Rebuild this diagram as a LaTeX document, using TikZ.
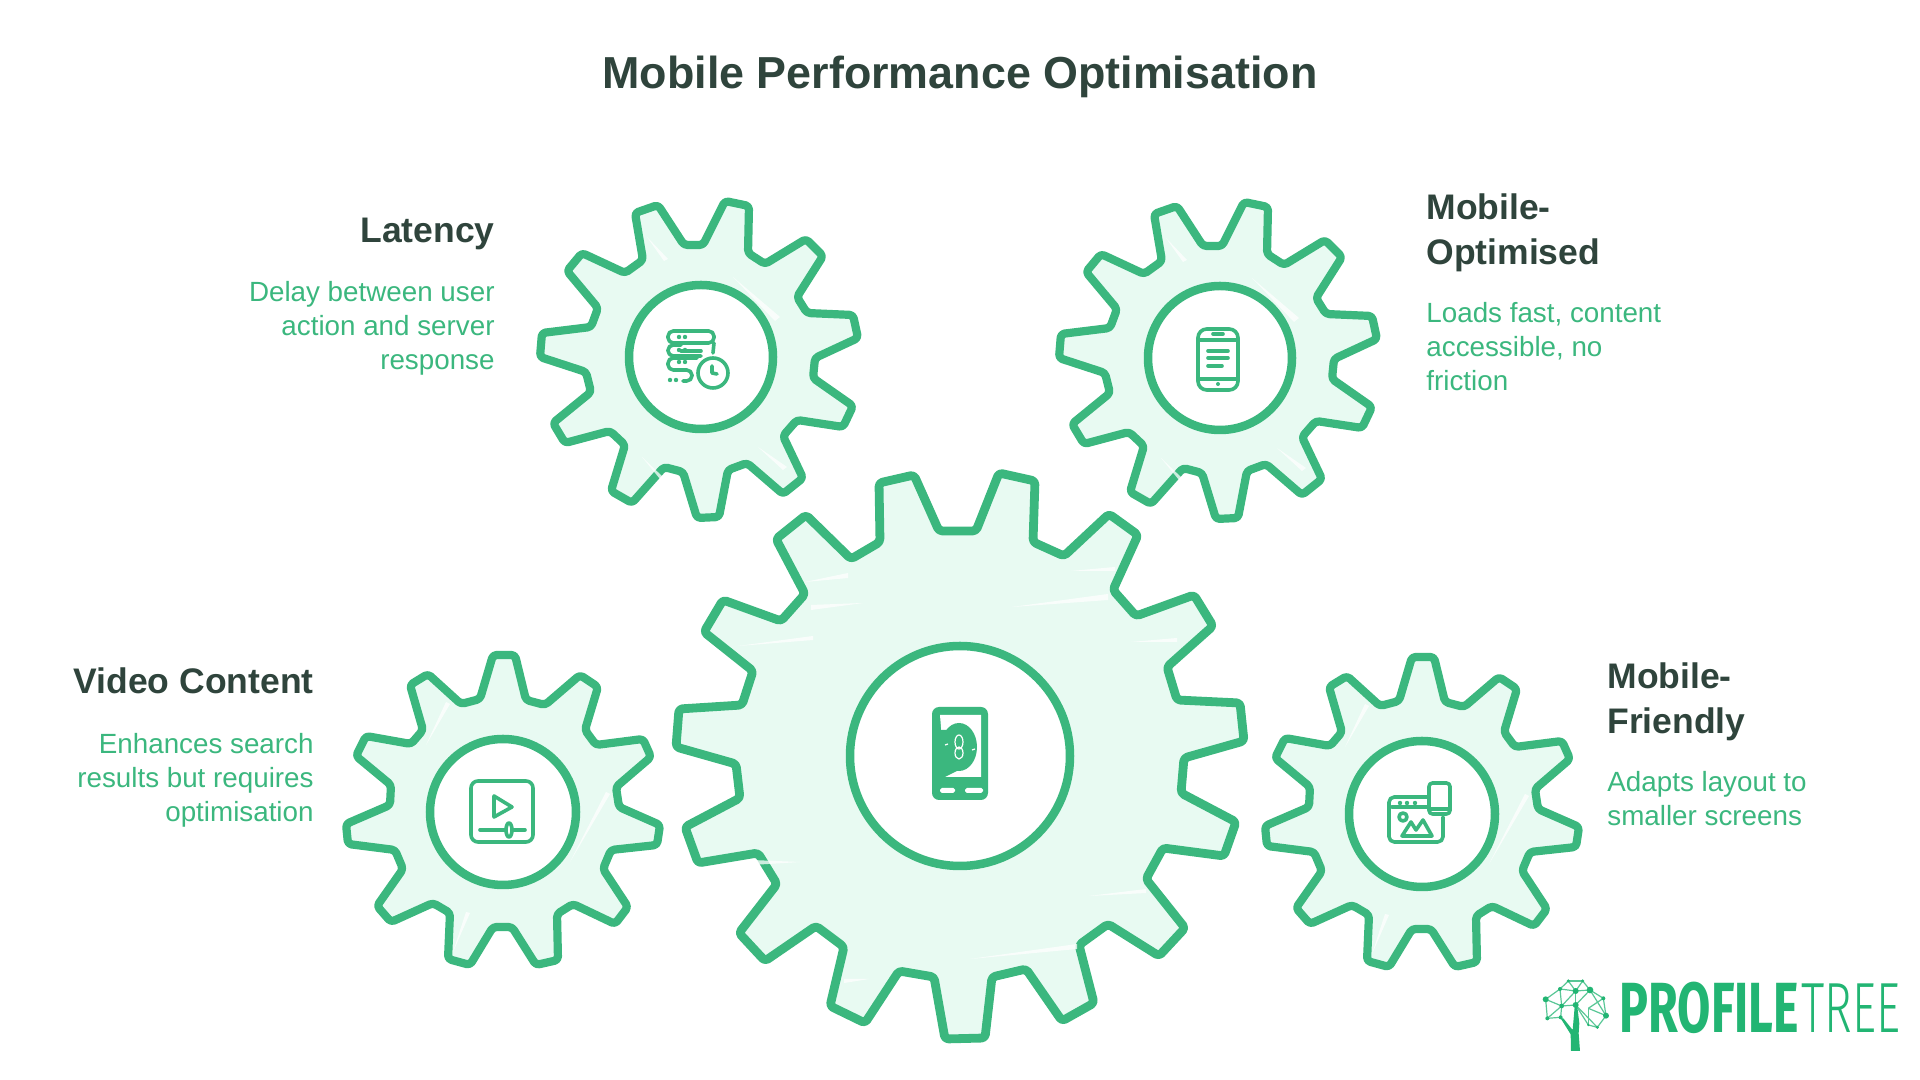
\documentclass[tikz,border=0pt]{standalone}
\usepackage{fontspec}
\setmainfont{Liberation Sans}
\newfontfamily\logofont[FakeStretch=0.68]{Fira Sans}
\newfontfamily\logolight[FakeStretch=0.66]{Fira Sans Light}
\definecolor{gearstroke}{HTML}{3BB77E}
\definecolor{gearfill}{HTML}{E8FAF2}
\definecolor{headdark}{HTML}{2F443C}
\definecolor{logogreen}{HTML}{22B573}
\tikzset{
	gearline/.style={draw=gearstroke, fill=gearfill, line width=0.082cm, line join=round, rounded corners=1pt},
	ringline/.style={draw=gearstroke, fill=white, line width=0.085cm},
	iconline/.style={draw=gearstroke, line width=0.036cm, line cap=round, line join=round},
	streak/.style={fill=white, opacity=0.75},
	titletext/.style={text=headdark, font=\fontsize{12.75}{15}\selectfont\bfseries},
	headtext/.style={text=headdark, font=\fontsize{10.1}{12.8}\selectfont\bfseries},
	desctext/.style={text=gearstroke, font=\fontsize{7.9}{9.65}\selectfont},
}
% gear with the teeth of the two top gears
\newcommand{\gearupper}[2]{
	\begin{scope}[shift={(#1,#2)}]
		\draw[gearline] (-66,-144) -- (-43,-152) -- (-17,-112) -- (2,-112) -- (24,-156) -- (48,-151) -- (47,-104) -- (64,-93) -- (105,-118) -- (122,-101) -- (96,-60) -- (106,-44) -- (152,-42) -- (157,-19) -- (114,1) -- (112,21) -- (152,49) -- (142,70) -- (96,63) -- (82,79) -- (102,121) -- (82,137) -- (46,106) -- (27,113) -- (18,160) -- (-4,161) -- (-18,115) -- (-37,110) -- (-69,146) -- (-90,134) -- (-76,88) -- (-91,74) -- (-136,86) -- (-148,66) -- (-110,35) -- (-115,15) -- (-161,0) -- (-159,-24) -- (-110,-30) -- (-103,-49) -- (-134,-86) -- (-119,-104) -- (-76,-84) -- (-58,-97) -- cycle;
		\fill[streak] (32,-80) -- (79,-40) -- (74,-36) -- cycle;
		\fill[streak] (57,90) -- (86,110) -- (82,113) -- cycle;
		\fill[streak] (-59,100) -- (-38,120) -- (-41,122) -- cycle;
		\fill[streak] (-54,-120) -- (-33,-98) -- (-37,-96) -- cycle;
		\draw[ringline] (0,0) circle (72);
	\end{scope}
}
% gear with the teeth of the two lower gears
\newcommand{\gearlower}[2]{
	\begin{scope}[shift={(#1,#2)}]
		\draw[gearline] (-10,-157) -- (12,-157) -- (23,-112) -- (42,-107) -- (77,-137) -- (95,-125) -- (82,-82) -- (93,-67) -- (140,-73) -- (148,-55) -- (113,-25) -- (116,-5) -- (157,13) -- (154,33) -- (108,38) -- (100,57) -- (125,95) -- (112,112) -- (70,92) -- (54,102) -- (55,148) -- (33,153) -- (9,115) -- (-10,115) -- (-33,153) -- (-55,147) -- (-53,101) -- (-70,91) -- (-112,110) -- (-126,94) -- (-100,57) -- (-108,38) -- (-155,32) -- (-157,12) -- (-113,-7) -- (-112,-27) -- (-147,-56) -- (-137,-76) -- (-92,-68) -- (-80,-82) -- (-93,-127) -- (-75,-138) -- (-42,-108) -- (-23,-113) -- cycle;
		\fill[streak] (-77,-67) -- (-57,-110) -- (-53,-108) -- cycle;
		\fill[streak] (67,50) -- (103,-20) -- (107,-18) -- cycle;
		\fill[streak] (-50,140) -- (-37,100) -- (-33,101) -- cycle;
		\draw[ringline] (0,0) circle (73);
	\end{scope}
}
\begin{document}
\begin{tikzpicture}[x=0.01cm, y=-0.01cm]
	\useasboundingbox (0,0) rectangle (1920,1080);

	% centre gear
	\draw[gearline, line width=0.088cm] (880,542) -- (879,483) -- (914,475) -- (939,531) -- (976,531) -- (999,473) -- (1035,481) -- (1033,542) -- (1064,556) -- (1109,514) -- (1138,535) -- (1113,590) -- (1136,616) -- (1194,595) -- (1213,626) -- (1167,667) -- (1177,700) -- (1240,703) -- (1244,741) -- (1184,758) -- (1181,793) -- (1236,822) -- (1224,856) -- (1163,848) -- (1146,879) -- (1185,928) -- (1159,956) -- (1108,924) -- (1079,945) -- (1094,1003) -- (1062,1021) -- (1026,969) -- (992,977) -- (985,1038) -- (945,1039) -- (934,977) -- (899,971) -- (865,1023) -- (830,1006) -- (844,947) -- (816,926) -- (765,961) -- (739,933) -- (777,884) -- (758,853) -- (698,863) -- (685,827) -- (740,798) -- (736,764) -- (676,747) -- (679,709) -- (742,705) -- (753,671) -- (704,632) -- (723,600) -- (781,621) -- (805,594) -- (776,539) -- (806,515) -- (851,559) -- cycle;
	\foreach \ax/\ay/\bx/\by/\cx/\cy in {1012/607/1108/594/1108/600, 805/582/848/573/848/578, 738/646/813/636/813/640, 811/605/863/603/811/610, 970/959/1077/944/1077/949, 1089/896/1146/889/1146/893, 1131/642/1177/638/1177/642, 1071/571/1115/567/1115/571, 752/860/800/862/752/865, 844/979/869/979/844/983}
		\fill[streak] (\ax,\ay) -- (\bx,\by) -- (\cx,\cy) -- cycle;
	\draw[ringline] (960,756) circle (110);

	% small gears
	\gearupper{701}{357}
	\gearupper{1220}{358}
	\gearlower{503}{812}
	\gearlower{1422}{814}

	% icon of the centre gear
	\begin{scope}[shift={(960,756)}]
		\fill[gearstroke, rounded corners=2pt] (-28,-49) rectangle (28,44);
		\fill[white] (-20,-41) -- (21,-41) -- (21,21) -- (-15,21) -- cycle;
		\fill[gearstroke] (-1,-9) ellipse (18 and 24);
		\fill[gearstroke] (-21,-26) -- (-1,-26) -- (-1,14) -- (-15,21) -- (-21,21) -- cycle;
		\draw[white, line width=0.012cm] (-1,-14) ellipse (4 and 7);
		\draw[white, line width=0.012cm] (-1,-3) ellipse (4 and 6);
		\draw[white, line width=0.012cm] (-15,-11) -- (-12,-12);
		\draw[white, line width=0.012cm] (12,-6) -- (15,-7);
		\fill[white, rounded corners=0.5pt] (-20,32) rectangle (-5,37);
		\fill[white, rounded corners=0.5pt] (5,32) rectangle (23,37);
	\end{scope}

	% icon of the latency gear
	\begin{scope}[shift={(701,357)}]
		\draw[iconline, rounded corners=1.5pt] (-33,-26) rectangle (13,-14);
		\draw[iconline] (13,-14) -- (12,-4);
		\draw[iconline, rounded corners=1.5pt] (0,-1) -- (-33,-1) -- (-33,-12) -- (-20,-12);
		\draw[iconline] (-20,-6) -- (0,-6);
		\draw[iconline, rounded corners=1.5pt] (-4,1) -- (-33,1) -- (-33,13) -- (-9,13) -- (-9,24) -- (-18,24);
		\draw[iconline, fill=white] (12,16) circle (15);
		\draw[iconline] (11,9) -- (11,16) -- (16,17);
		\foreach \dx/\dy in {-22/-20,-16/-20,-22/-7,-16/-7,-22/5,-16/5,-31/23,-25/23}
			\fill[gearstroke] (\dx,\dy) circle (2.2);
	\end{scope}

	% icon of the mobile-optimised gear
	\begin{scope}[shift={(1220,358)}]
		\draw[iconline, rounded corners=2.5pt] (-22,-29) rectangle (18,32);
		\draw[iconline] (-20,-18) -- (16,-18);
		\draw[iconline] (-20,21) -- (16,21);
		\draw[iconline] (-7,-24) -- (3,-24);
		\draw[iconline] (-12,-7) -- (8,-7);
		\draw[iconline] (-12,0) -- (8,0);
		\draw[iconline] (-12,8) -- (2,8);
		\fill[gearstroke] (-2,26) circle (2);
	\end{scope}

	% icon of the video gear
	\begin{scope}[shift={(503,812)}]
		\draw[iconline, rounded corners=2pt] (-32,-31) rectangle (30,30);
		\draw[iconline] (-9,-16) -- (9,-5) -- (-9,5) -- cycle;
		\draw[iconline] (-23,18) -- (22,18);
		\draw[iconline, fill=white] (6,18) ellipse (3 and 7);
	\end{scope}

	% icon of the mobile-friendly gear
	\begin{scope}[shift={(1422,814)}]
		\draw[iconline, rounded corners=1.5pt] (5,-17) -- (-33,-17) -- (-33,28) -- (21,28) -- (21,3);
		\draw[iconline] (-30,-7) -- (5,-7);
		\foreach \dx in {-22,-15,-7}
			\fill[gearstroke] (\dx,-11) circle (2.2);
		\draw[iconline] (-19,3) circle (4);
		\draw[iconline] (-20,22) -- (-11,8) -- (-6,16) -- (1,6) -- (10,22) -- cycle;
		\draw[iconline, rounded corners=1pt] (7,-31) rectangle (28,0);
		\draw[iconline] (8,-5) -- (27,-5);
	\end{scope}

	% texts
	\node (title) at (960,77) [titletext] {Mobile Performance Optimisation};
	\node (latencyhead) at (507,234) [headtext, anchor=east] {Latency};
	\node (latencytext) at (507,328) [desctext, anchor=east, align=right] {Delay between user\\action and server\\response};
	\node (optimisedhead) at (1414,233) [headtext, anchor=west, align=left] {Mobile-\\Optimised};
	\node (optimisedtext) at (1414,347) [desctext, anchor=west, align=left] {Loads fast, content\\accessible, no\\friction};
	\node (videohead) at (326,681) [headtext, anchor=east] {Video Content};
	\node (videotext) at (326,780) [desctext, anchor=east, align=right] {Enhances search\\results but requires\\optimisation};
	\node (friendlyhead) at (1595,702) [headtext, anchor=west, align=left] {Mobile-\\Friendly};
	\node (friendlytext) at (1595,799) [desctext, anchor=west, align=left] {Adapts layout to\\smaller screens};

	% logo
	\begin{scope}[shift={(1540,975)}, scale=0.3333]
		\foreach \ax/\ay/\bx/\by in {85/18/128/18, 85/18/60/42, 85/18/107/48, 128/18/107/48, 128/18/150/45, 60/42/107/48, 60/42/17/73, 60/42/65/93, 107/48/150/45, 107/48/65/93, 107/48/107/90, 150/45/190/70, 150/45/107/90, 150/45/198/122, 190/70/198/122, 190/70/145/100, 17/73/65/93, 17/73/22/130, 65/93/22/130, 65/93/62/127, 65/93/107/90, 22/130/62/127, 107/90/145/150, 107/90/172/157, 145/100/198/122, 145/100/145/150, 198/122/172/157, 145/150/172/157, 62/127/95/170}
			\draw[logogreen!75, line width=0.012cm] (\ax,\ay) -- (\bx,\by);
		\fill[logogreen] (93,228) -- (120,228) -- (116,175) -- (118,145) -- (112,95) -- (104,95) -- (98,165) -- (70,130) -- (62,130) -- (92,178) -- cycle;
		\foreach \ax/\ay/\rr in {85/18/5, 128/18/5, 60/42/6, 107/48/9, 150/45/10, 190/70/6, 17/73/9, 65/93/7, 107/90/9, 198/122/9, 22/130/6, 62/127/6, 145/150/4, 172/157/5}
			\fill[logogreen] (\ax,\ay) circle (\rr);
	\end{scope}
	\node (logobold) at (1619,1008) [anchor=west, inner sep=0pt, text=logogreen, font=\fontsize{20.2}{22}\selectfont\logofont\bfseries] {PROFILE};
	\node (logothin) at (1801,1008) [anchor=west, inner sep=0pt, text=logogreen, font=\fontsize{20.2}{22}\selectfont\logolight] {TREE};
\end{tikzpicture}
\end{document}
